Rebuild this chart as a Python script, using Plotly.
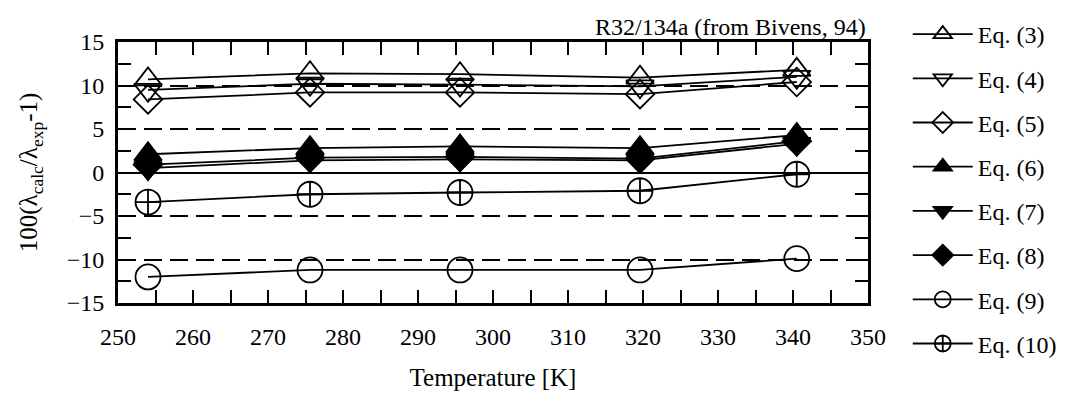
import plotly.graph_objects as go

temperature = [254.0, 275.6, 295.6, 319.6, 340.5]

eq3 = [10.7, 11.4, 11.3, 10.9, 11.8]
eq4 = [9.5, 10.2, 10.1, 9.9, 11.0]
eq5 = [8.4, 9.2, 9.2, 9.0, 10.4]
eq6 = [2.1, 2.8, 3.0, 2.8, 4.3]
eq7 = [0.5, 1.4, 1.5, 1.4, 3.3]
eq8 = [0.9, 1.7, 1.8, 1.6, 3.6]
eq9 = [-12.0, -11.2, -11.2, -11.2, -9.9]
eq10 = [-3.4, -2.5, -2.3, -2.1, -0.2]

series_names = ["Eq. (3)", "Eq. (4)", "Eq. (5)", "Eq. (6)", "Eq. (7)", "Eq. (8)", "Eq. (9)", "Eq. (10)"]
series_values = [eq3, eq4, eq5, eq6, eq7, eq8, eq9, eq10]
symbols = ["triangle-up-open", "triangle-down-open", "diamond-open",
           "triangle-up", "triangle-down", "diamond",
           "circle-open", "circle-cross-open"]
sizes = [24, 24, 22, 24, 24, 22, 25, 25]

FONT = "Times New Roman"

fig = go.Figure()
for i, (name, vals, sym, sz) in enumerate(zip(series_names, series_values, symbols, sizes)):
    fig.add_trace(go.Scatter(
        x=temperature, y=vals, name=name, mode="lines+markers",
        line=dict(color="black", width=1.8),
        marker=dict(symbol=sym, size=sz, color="black",
                    line=dict(color="black", width=1.8)),
        legendgroup=f"g{i}",
    ))

fig.update_layout(
    width=1077, height=398,
    margin=dict(l=118, r=209, t=42, b=95),
    paper_bgcolor="white", plot_bgcolor="white",
    font=dict(family=FONT, size=22, color="black"),
    showlegend=True,
    legend=dict(
        x=1.053, xanchor="left", y=1.115, yanchor="top",
        font=dict(family=FONT, size=24, color="black"),
        tracegroupgap=10, itemwidth=60, maxheight=420,
        bgcolor="rgba(0,0,0,0)",
    ),
    annotations=[dict(
        text="R32/134a (from Bivens, 94)", xref="paper", yref="paper",
        x=1.0, y=1.0, xanchor="right", yanchor="bottom", showarrow=False,
        font=dict(family=FONT, size=24, color="black"), yshift=0,
    )],
)

fig.update_xaxes(
    range=[250, 350], dtick=10, tick0=250,
    ticks="inside", ticklen=13, tickwidth=1.5, tickcolor="black",
    minor=dict(dtick=5, ticks="inside", ticklen=13, tickwidth=1.5, tickcolor="black"),
    showline=True, linecolor="black", linewidth=3, mirror="ticks",
    showgrid=False, zeroline=False,
    tickfont=dict(family=FONT, size=24),
    title=dict(text="Temperature [K]", font=dict(family=FONT, size=25), standoff=20),
    ticklabelstandoff=10,
)
fig.update_yaxes(
    range=[-15, 15], dtick=5, tick0=-15,
    ticks="inside", ticklen=13, tickwidth=1.5, tickcolor="black",
    minor=dict(dtick=2.5, ticks="inside", ticklen=13, tickwidth=1.5, tickcolor="black"),
    showline=True, linecolor="black", linewidth=3, mirror="ticks",
    showgrid=True, gridcolor="black", gridwidth=1.5, griddash="18px,8px",
    zeroline=True, zerolinecolor="black", zerolinewidth=1.5,
    tickfont=dict(family=FONT, size=24),
    title=dict(text="100(λ<sub>calc</sub>/λ<sub>exp</sub>-1)", font=dict(family=FONT, size=25), standoff=22),
    ticklabelstandoff=6,
)

fig.write_html("out.html")
